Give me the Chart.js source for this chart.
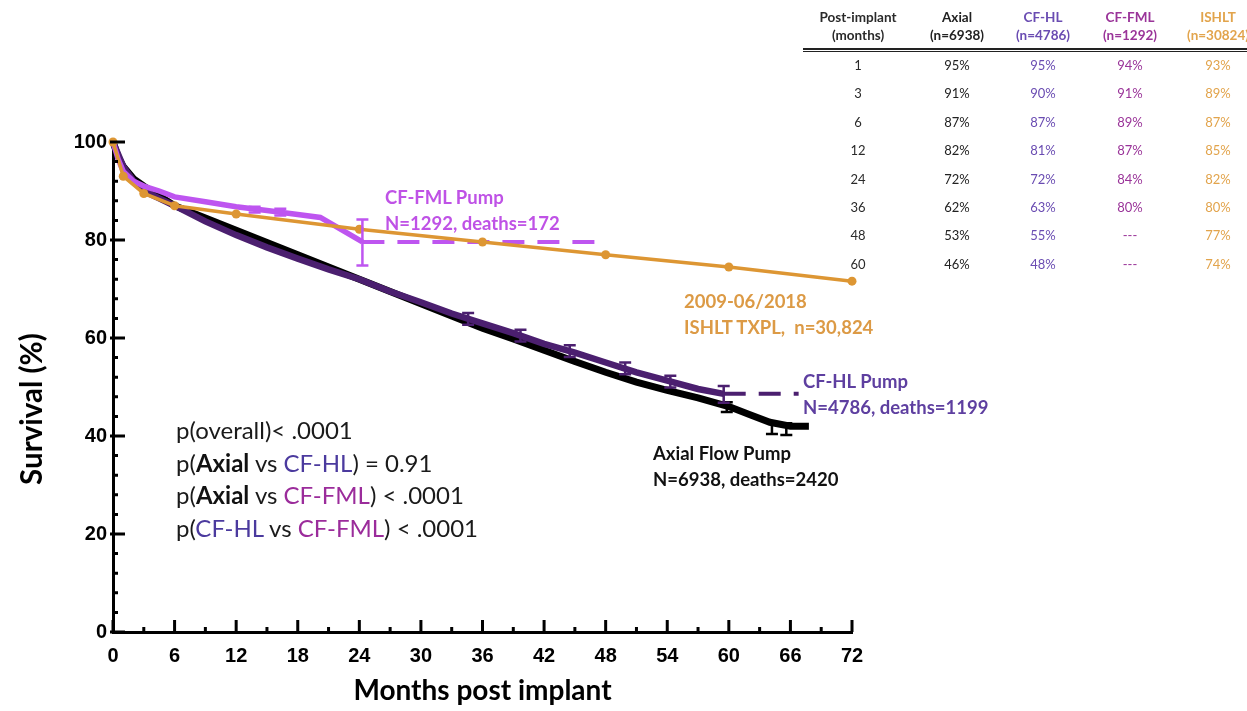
<!DOCTYPE html>
<html>
<head>
<meta charset="utf-8">
<script src="https://cdn.jsdelivr.net/npm/chart.js@4.4.1/dist/chart.umd.min.js"></script>
<style>
html,body{margin:0;padding:0;background:#fff;}
#wrap{position:relative;width:1247px;height:711px;overflow:hidden;background:#fff;}
#wrap canvas{position:absolute;left:0;top:0;}
.lbl{position:absolute;font-family:Lato,"Open Sans",sans-serif;font-weight:700;font-size:18.5px;line-height:26px;white-space:nowrap;}
.pv{position:absolute;left:176px;top:414px;font-family:Lato,"Open Sans",sans-serif;font-weight:400;font-size:24px;line-height:32.7px;color:#1a1a1a;white-space:nowrap;}
.pv b{font-weight:700;color:#111;}
.hl{color:#4B3A9E;}
.fml{color:#9B2C9B;}
.cell{position:absolute;width:110px;text-align:center;font-family:Lato,"Open Sans",sans-serif;font-size:13px;line-height:16px;white-space:nowrap;}
.hdr{font-weight:700;font-size:13.5px;}
.rule{position:absolute;left:803px;width:450px;background:#222;}
</style>
</head>
<body>
<div id="wrap">
  <canvas id="c"></canvas>
  <div class="lbl" style="left:385px;top:184px;color:#BF52E6;">CF-FML Pump<br>N=1292, deaths=172</div>
  <div class="lbl" style="left:684px;top:288px;color:#DC9A45;">2009-06/2018<br>ISHLT TXPL,&nbsp; n=30,824</div>
  <div class="lbl" style="left:803px;top:368px;color:#5E3FA0;">CF-HL Pump<br>N=4786, deaths=1199</div>
  <div class="lbl" style="left:653px;top:440px;color:#111;">Axial Flow Pump<br>N=6938, deaths=2420</div>
  <div class="pv">
    p(overall)&lt; .0001<br>
    p(<b>Axial</b> vs <span class="hl">CF-HL</span>) = 0.91<br>
    p(<b>Axial</b> vs <span class="fml">CF-FML</span>) &lt; .0001<br>
    p(<span class="hl">CF-HL</span> vs <span class="fml">CF-FML</span>) &lt; .0001
  </div>
  <div class="rule" style="top:48px;height:2px;"></div>
  <div class="rule" style="top:51px;height:1px;"></div>
  <div id="table"></div>
</div>
<script>
// ---------------- data ----------------
const axialMonths = [0, 0.5, 1, 2, 3, 4.5, 6, 9, 12, 15, 18, 21, 24, 27, 30, 33, 36, 39, 42, 45, 48, 51, 54, 57, 60, 62, 64, 66, 67.8];
const axialSurv   = [100, 97, 95, 92.5, 91, 89, 87, 84.5, 82, 79.5, 77, 74.5, 72, 69.5, 67, 64.5, 62, 59.8, 57.5, 55.2, 53, 51, 49.3, 47.8, 46, 44.4, 42.8, 42, 42];

const hlMonths = [0, 0.5, 1, 2, 3, 4.5, 6, 9, 12, 15, 18, 21, 24, 27, 30, 33, 36, 39, 42, 45, 48, 51, 54, 57, 59.5];
const hlSurv   = [100, 97.5, 95, 92, 90, 88.5, 87, 83.8, 81, 78.5, 76.2, 74, 72, 69.5, 67.3, 65, 63, 61, 58.8, 57, 55, 53, 51.3, 49.6, 48.6];
const hlTailMonths = [59.5, 66.8];
const hlTailSurv   = [48.6, 48.6];

const fmlMonths = [0, 0.5, 1, 2, 3, 4.5, 6, 9, 12, 15, 18, 20.2, 24.3];
const fmlSurv   = [100, 96.5, 94, 92, 91, 90, 88.8, 87.8, 86.8, 86, 85.2, 84.6, 79.6];
const fmlTailMonths = [24.3, 47.5];
const fmlTailSurv   = [79.6, 79.6];

const ishltMonths = [0, 1, 3, 6, 12, 24, 36, 48, 60, 72];
const ishltSurv   = [100, 93, 89.5, 87, 85.3, 82.2, 79.6, 77, 74.5, 71.6];

const axialErrMonths = [59.8, 64.2, 65.6];
const axialErrLow    = [44.9, 40.4, 40.2];
const axialErrHigh   = [46.9, 42.8, 42.6];

const hlErrMonths = [34.6, 39.7, 44.5, 49.9, 54.3, 59.5];
const hlErrLow    = [62.7, 59.3, 56.1, 52.6, 49.9, 46.8];
const hlErrHigh   = [65.1, 61.7, 58.5, 55.0, 52.3, 50.2];

const fmlErrMonths = [13.8, 16.3, 24.3];
const fmlErrLow    = [85.6, 85.0, 74.8];
const fmlErrHigh   = [86.8, 86.4, 84.2];

const xTickValues = [0, 6, 12, 18, 24, 30, 36, 42, 48, 54, 60, 66, 72];
const xTickLabels = ['0', '6', '12', '18', '24', '30', '36', '42', '48', '54', '60', '66', '72'];
const yTickValues = [0, 20, 40, 60, 80, 100];
const yTickLabels = ['0', '20', '40', '60', '80', '100'];
const yTitle = 'Survival (%)';
const xTitle = 'Months post implant';

const tableHeaders = [['Post-implant', '(months)'], ['Axial', '(n=6938)'], ['CF-HL', '(n=4786)'], ['CF-FML', '(n=1292)'], ['ISHLT', '(n=30824)']];
const tableMonths = ['1', '3', '6', '12', '24', '36', '48', '60'];
const tableAxial  = ['95%', '91%', '87%', '82%', '72%', '62%', '53%', '46%'];
const tableHL     = ['95%', '90%', '87%', '81%', '72%', '63%', '55%', '48%'];
const tableFML    = ['94%', '91%', '89%', '87%', '84%', '80%', '---', '---'];
const tableISHLT  = ['93%', '89%', '87%', '85%', '82%', '80%', '77%', '74%'];

// ---------------- table (text) ----------------
(function buildTable(){
  const cols = [tableMonths, tableAxial, tableHL, tableFML, tableISHLT];
  const colX = [858, 957, 1043, 1130, 1218];
  const colC = ['#2a2a2a', '#222', '#6A4CB2', '#9A3499', '#E2A44C'];
  const rowY = [65, 93, 121.5, 150, 178.5, 207, 235, 263.5];
  const host = document.getElementById('table');
  tableHeaders.forEach((h, i) => {
    h.forEach((t, j) => {
      const d = document.createElement('div');
      d.className = 'cell hdr';
      d.textContent = t;
      d.style.left = (colX[i] - 55) + 'px';
      d.style.top = ((j === 0 ? 17 : 35) - 8) + 'px';
      d.style.color = colC[i];
      host.appendChild(d);
    });
  });
  cols.forEach((col, i) => {
    col.forEach((t, r) => {
      const d = document.createElement('div');
      d.className = 'cell';
      d.textContent = t;
      d.style.left = (colX[i] - 55) + 'px';
      d.style.top = (rowY[r] - 8) + 'px';
      d.style.color = colC[i];
      host.appendChild(d);
    });
  });
})();

// ---------------- chart ----------------
const pts = (xs, ys) => xs.map((x, i) => ({x: x, y: ys[i]}));

const C_AXIAL = '#000000';
const C_HL = '#4B1F6F';
const C_FML = '#BE55F0';
const C_ISHLT = '#DD9633';

const errorGroups = [
  {months: axialErrMonths, low: axialErrLow, high: axialErrHigh, color: C_AXIAL},
  {months: hlErrMonths, low: hlErrLow, high: hlErrHigh, color: C_HL},
  {months: fmlErrMonths, low: fmlErrLow, high: fmlErrHigh, color: C_FML}
];

const errorBars = {
  id: 'errorBars',
  afterDatasetsDraw(chart) {
    const {ctx, scales: {x, y}} = chart;
    ctx.save();
    ctx.lineWidth = 2.5;
    errorGroups.forEach(g => {
      ctx.strokeStyle = g.color;
      g.months.forEach((m, i) => {
        const px = x.getPixelForValue(m);
        const y1 = y.getPixelForValue(g.low[i]);
        const y2 = y.getPixelForValue(g.high[i]);
        ctx.beginPath();
        ctx.moveTo(px, y1); ctx.lineTo(px, y2);
        ctx.moveTo(px - 6, y1); ctx.lineTo(px + 6, y1);
        ctx.moveTo(px - 6, y2); ctx.lineTo(px + 6, y2);
        ctx.stroke();
      });
    });
    ctx.restore();
  }
};

const axisTicks = {
  id: 'axisTicks',
  afterDraw(chart) {
    const {ctx, scales: {x, y}, chartArea: a} = chart;
    ctx.save();
    ctx.strokeStyle = '#000';
    ctx.lineWidth = 3;
    ctx.beginPath();
    for (let m = 0; m <= 72; m += 3) {
      const px = x.getPixelForValue(m);
      const len = (m % 6 === 0) ? 12 : 5;
      ctx.moveTo(px, a.bottom); ctx.lineTo(px, a.bottom - len);
    }
    for (let v = 0; v <= 100; v += 4) {
      const py = y.getPixelForValue(v);
      ctx.moveTo(a.left, py); ctx.lineTo(a.left + 5, py);
    }
    yTickValues.forEach(v => {
      const py = y.getPixelForValue(v);
      ctx.moveTo(a.left - 3, py); ctx.lineTo(a.left + 12, py);
    });
    ctx.stroke();
    // y axis title (placed slightly below the axis centre, as in the original)
    ctx.translate(32, y.getPixelForValue(45.5));
    ctx.rotate(-Math.PI / 2);
    ctx.fillStyle = '#000';
    ctx.font = 'bold 29.5px Lato, "Open Sans", sans-serif';
    ctx.textAlign = 'center';
    ctx.textBaseline = 'middle';
    ctx.fillText(yTitle, 0, 0);
    ctx.restore();
  }
};

const tickFont = {family: '"Liberation Sans", Arial, sans-serif', weight: 'bold', size: 20};
const titleFont = {family: 'Lato, "Open Sans", sans-serif', weight: 'bold', size: 28};

new Chart(document.getElementById('c'), {
  type: 'line',
  data: {
    datasets: [
      {label: 'ISHLT', data: pts(ishltMonths, ishltSurv), borderColor: C_ISHLT, backgroundColor: C_ISHLT,
       borderWidth: 3.5, pointRadius: 4.5, pointBorderWidth: 0, pointBackgroundColor: C_ISHLT},
      {label: 'CF-FML', data: pts(fmlMonths, fmlSurv), borderColor: C_FML, borderWidth: 5.5, pointRadius: 0},
      {label: 'CF-FML tail', data: pts(fmlTailMonths, fmlTailSurv), borderColor: C_FML, borderWidth: 4,
       borderDash: [22, 13], pointRadius: 0},
      {label: 'CF-HL', data: pts(hlMonths, hlSurv), borderColor: C_HL, borderWidth: 6.5, pointRadius: 0},
      {label: 'CF-HL tail', data: pts(hlTailMonths, hlTailSurv), borderColor: C_HL, borderWidth: 4,
       borderDash: [22, 13], pointRadius: 0},
      {label: 'Axial', data: pts(axialMonths, axialSurv), borderColor: C_AXIAL, borderWidth: 7, pointRadius: 0,
       borderCapStyle: 'butt'}
    ]
  },
  options: {
    responsive: true,
    maintainAspectRatio: false,
    animation: false,
    events: [],
    datasets: {line: {clip: false, tension: 0, fill: false}},
    layout: {padding: {top: 142, right: 395, left: 0, bottom: 0}},
    plugins: {legend: {display: false}, tooltip: {enabled: false}, title: {display: false}},
    scales: {
      x: {
        type: 'linear', min: 0, max: 72,
        afterFit: s => { s.height = 79; },
        afterBuildTicks: s => { s.ticks = xTickValues.map(v => ({value: v})); },
        ticks: {font: tickFont, color: '#000', padding: 12, maxRotation: 0, autoSkip: false,
                callback: v => xTickLabels[xTickValues.indexOf(v)]},
        grid: {display: false, drawTicks: false},
        border: {display: true, color: '#000', width: 3},
        title: {display: true, text: xTitle, color: '#000', font: titleFont, padding: {top: 0, bottom: 3}}
      },
      y: {
        type: 'linear', min: 0, max: 100,
        afterFit: s => { s.width = 113; },
        afterBuildTicks: s => { s.ticks = yTickValues.map(v => ({value: v})); },
        ticks: {font: tickFont, color: '#000', padding: 6, autoSkip: false,
                callback: v => yTickLabels[yTickValues.indexOf(v)]},
        grid: {display: false, drawTicks: false},
        border: {display: true, color: '#000', width: 3},
        title: {display: false}
      }
    }
  },
  plugins: [errorBars, axisTicks]
});
</script>
</body>
</html>
